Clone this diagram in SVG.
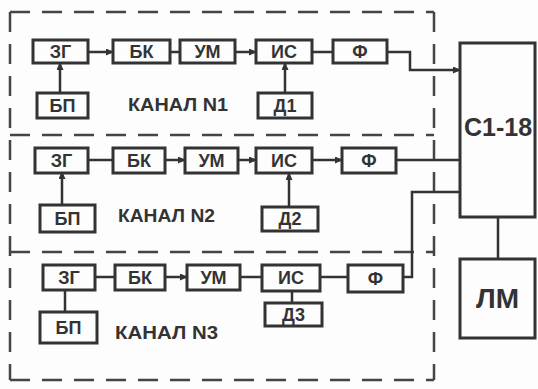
<svg xmlns="http://www.w3.org/2000/svg" width="538" height="389" viewBox="0 0 538 389">
<defs>
<marker id="arr" markerUnits="userSpaceOnUse" markerWidth="8" markerHeight="7" refX="7" refY="3.5" orient="auto">
<path d="M0,0 L8,3.5 L0,7 Z" fill="#333"/>
</marker>
<style>
.box{fill:#fdfdfd;stroke:#333;stroke-width:3}
.lbl{font-family:"Liberation Sans",Arial,sans-serif;font-weight:bold;font-size:18px;fill:#333;text-anchor:middle;dominant-baseline:central}
.big{font-family:"Liberation Sans",Arial,sans-serif;font-weight:bold;font-size:28px;fill:#333;text-anchor:middle;dominant-baseline:central}
.ch{font-family:"Liberation Sans",Arial,sans-serif;font-weight:bold;font-size:18px;fill:#333;dominant-baseline:central}
.ln{fill:none;stroke:#333;stroke-width:2.5}
.dash{fill:none;stroke:#444;stroke-width:2.5;stroke-dasharray:20 12}
</style>
</defs>
<rect width="538" height="389" fill="#fdfdfd"/>

<g id="frame">
<path class="dash" d="M10,12 H434"/>
<path class="dash" d="M10,12 V380"/>
<path class="dash" d="M434,12 V380"/>
<path class="dash" d="M10,135 H434"/>
<path class="dash" d="M10,252 H434"/>
<path class="dash" d="M10,380 H434"/>
</g>

<g id="connectors">
<!-- channel 1 -->
<path class="ln" d="M88,52 H113" marker-end="url(#arr)"/>
<path class="ln" d="M170,52 H180"/>
<path class="ln" d="M235,52 H256" marker-end="url(#arr)"/>
<path class="ln" d="M312,52 H333"/>
<path class="ln" d="M60,93 V63" marker-end="url(#arr)"/>
<path class="ln" d="M285,93 V63" marker-end="url(#arr)"/>
<path class="ln" d="M387,52 H410 V70 H460" marker-end="url(#arr)"/>
<!-- channel 2 -->
<path class="ln" d="M88,160 H113"/>
<path class="ln" d="M165,160 H185" marker-end="url(#arr)"/>
<path class="ln" d="M238,160 H256" marker-end="url(#arr)"/>
<path class="ln" d="M312,160 H342" marker-end="url(#arr)"/>
<path class="ln" d="M62,205 V172" marker-end="url(#arr)"/>
<path class="ln" d="M289,207 V173" marker-end="url(#arr)"/>
<path class="ln" d="M396,160 H460"/>
<!-- channel 3 -->
<path class="ln" d="M95,277 H115"/>
<path class="ln" d="M165,277 H187" marker-end="url(#arr)"/>
<path class="ln" d="M240,277 H262"/>
<path class="ln" d="M320,277 H348"/>
<path class="ln" d="M65,312 V290"/>
<path class="ln" d="M292,303 V292"/>
<path class="ln" d="M403,277 H412 V192 H460"/>
<!-- C1-18 to LM -->
<path class="ln" d="M498,217 V259"/>
</g>

<g id="ch1">
<g id="zg1"><rect class="box" x="33" y="40" width="55" height="23"/><text class="lbl" x="60.5" y="52">ЗГ</text></g>
<g id="bk1"><rect class="box" x="113" y="40" width="57" height="23"/><text class="lbl" x="141.5" y="52">БК</text></g>
<g id="um1"><rect class="box" x="180" y="40" width="55" height="23"/><text class="lbl" x="207.5" y="52">УМ</text></g>
<g id="is1"><rect class="box" x="256" y="40" width="56" height="23"/><text class="lbl" x="284" y="52">ИС</text></g>
<g id="f1"><rect class="box" x="333" y="40" width="54" height="23"/><text class="lbl" x="360" y="52">Ф</text></g>
<g id="bp1"><rect class="box" x="37" y="93" width="51" height="25"/><text class="lbl" x="62.5" y="106">БП</text></g>
<g id="d1"><rect class="box" x="258" y="93" width="54" height="25"/><text class="lbl" x="285" y="106">Д1</text></g>
<text class="ch" x="128" y="105" textLength="100" lengthAdjust="spacingAndGlyphs">КАНАЛ N1</text>
</g>

<g id="ch2">
<g id="zg2"><rect class="box" x="35" y="148" width="53" height="25"/><text class="lbl" x="61.5" y="160.5">ЗГ</text></g>
<g id="bk2"><rect class="box" x="113" y="148" width="52" height="25"/><text class="lbl" x="139" y="160.5">БК</text></g>
<g id="um2"><rect class="box" x="185" y="148" width="53" height="25"/><text class="lbl" x="211.5" y="160.5">УМ</text></g>
<g id="is2"><rect class="box" x="256" y="148" width="56" height="25"/><text class="lbl" x="284" y="160.5">ИС</text></g>
<g id="f2"><rect class="box" x="342" y="148" width="54" height="25"/><text class="lbl" x="369" y="160.5">Ф</text></g>
<g id="bp2"><rect class="box" x="40" y="205" width="55" height="27"/><text class="lbl" x="67.5" y="218.5">БП</text></g>
<g id="d2"><rect class="box" x="262" y="207" width="56" height="24"/><text class="lbl" x="290" y="219">Д2</text></g>
<text class="ch" x="118" y="216" textLength="97" lengthAdjust="spacingAndGlyphs">КАНАЛ N2</text>
</g>

<g id="ch3">
<g id="zg3"><rect class="box" x="43" y="265" width="52" height="25"/><text class="lbl" x="69" y="277.5">ЗГ</text></g>
<g id="bk3"><rect class="box" x="115" y="265" width="50" height="25"/><text class="lbl" x="140" y="277.5">БК</text></g>
<g id="um3"><rect class="box" x="187" y="265" width="53" height="25"/><text class="lbl" x="213.5" y="277.5">УМ</text></g>
<g id="is3"><rect class="box" x="262" y="265" width="58" height="26"/><text class="lbl" x="291" y="278">ИС</text></g>
<g id="f3"><rect class="box" x="348" y="265" width="55" height="27"/><text class="lbl" x="375.5" y="278.5">Ф</text></g>
<g id="bp3"><rect class="box" x="40" y="312" width="57" height="31"/><text class="lbl" x="68.5" y="327.5">БП</text></g>
<g id="d3"><rect class="box" x="265" y="303" width="57" height="23"/><text class="lbl" x="293.5" y="314.5">Д3</text></g>
<text class="ch" x="115" y="333" textLength="103" lengthAdjust="spacingAndGlyphs">КАНАЛ N3</text>
</g>

<g id="c118"><rect class="box" x="460" y="43" width="75" height="174"/><text class="big" x="498" y="127" style="font-size:25px">С1-18</text></g>
<g id="lm"><rect class="box" x="460" y="259" width="75" height="79"/><text class="big" x="497.5" y="298">ЛМ</text></g>
</svg>
